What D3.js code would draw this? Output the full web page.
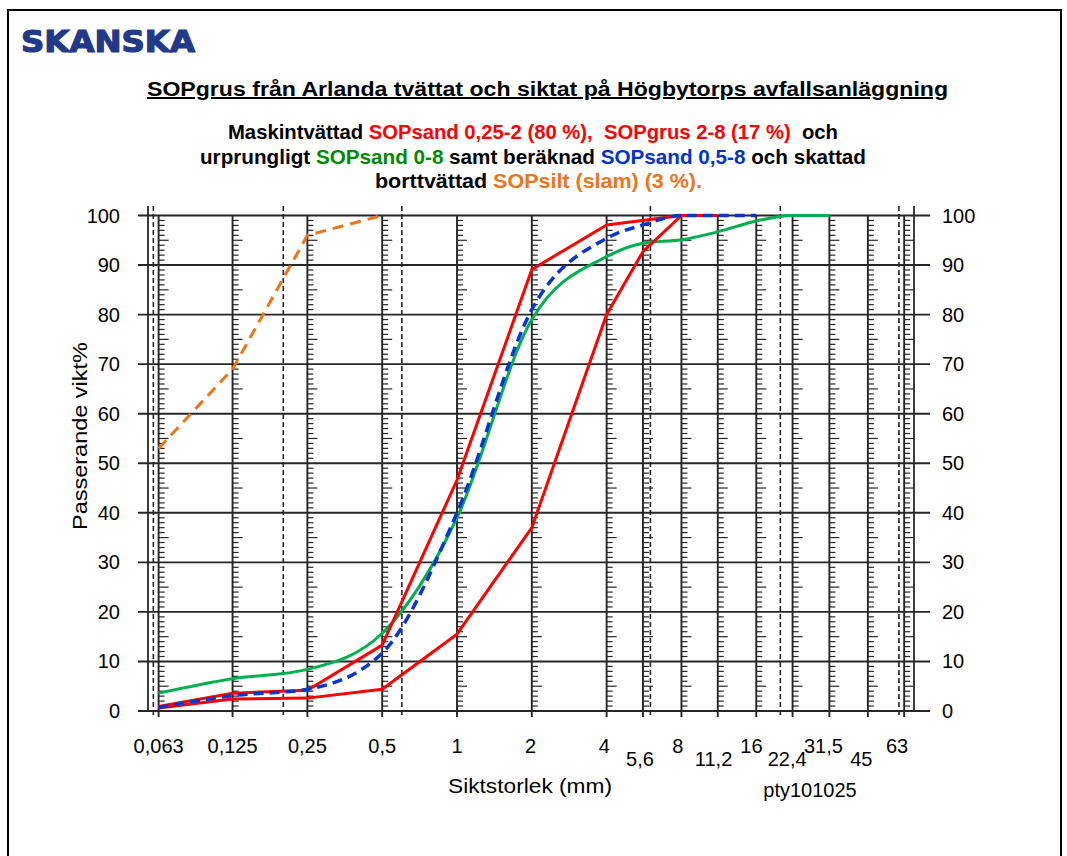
<!DOCTYPE html>
<html>
<head>
<meta charset="utf-8">
<script src="https://cdn.jsdelivr.net/npm/d3@7"></script>
<style>
  html, body { margin: 0; padding: 0; background: #fff; }
  svg { display: block; }
  text { font-family: "Liberation Sans", Arial, sans-serif; }
</style>
</head>
<body>
<svg id="chart" width="1067" height="856"></svg>
<script>
// Sieve sizes (mm) and their axis labels
const sieves = [0.063, 0.125, 0.25, 0.5, 1, 2, 4, 5.6, 8, 11.2, 16, 22.4, 31.5, 45, 63];
const sieveLabels = ["0,063", "0,125", "0,25", "0,5", "1", "2", "4", "5,6", "8", "11,2", "16", "22,4", "31,5", "45", "63"];
const lowerRowLabels = ["5,6", "11,2", "22,4", "45"];
// Fraction boundaries (dashed)
const fractionBounds = [0.06, 0.2, 0.6, 6, 20, 60];
const yTicks = [0, 10, 20, 30, 40, 50, 60, 70, 80, 90, 100];

// Passing percentages
const sandFineSizes = [0.063, 0.125, 0.25, 0.5, 1, 2, 4, 8, 11.2];
const sandFineValues = [0.9, 3.6, 4.2, 13.3, 46.6, 89.1, 98.1, 100, 100];

const grusSizes = [0.063, 0.125, 0.25, 0.5, 1, 2, 4, 5.6, 8];
const grusValues = [0.6, 2.4, 2.6, 4.4, 15.5, 37, 80, 92.7, 100];

const sandOrigSizes = [0.063, 0.125, 0.25, 0.5, 1, 2, 4, 5.6, 8, 11.2, 16, 22.4, 31.5];
const sandOrigValues = [3.6, 6.5, 8.4, 15.7, 39, 79, 91.7, 94.4, 95.1, 96.7, 98.9, 100, 100];

const sandCalcSizes = [0.063, 0.125, 0.25, 0.5, 1, 2, 4, 5.6, 8, 11.2, 16];
const sandCalcValues = [0.7, 3.1, 4.4, 11.7, 40, 81, 95.4, 98.1, 100, 100, 100];

const siltSizes = [0.063, 0.125, 0.25, 0.5];
const siltValues = [53, 69, 96, 100];

const svg = d3.select("#chart");

// Outer frame of the sheet
svg.append("rect").attr("x", 8).attr("y", 10).attr("width", 1053).attr("height", 900)
  .attr("fill", "none").attr("stroke", "#000").attr("stroke-width", 2);

// Company logo text
svg.append("text").attr("x", 21).attr("y", 52)
  .attr("textLength", 174).attr("lengthAdjust", "spacingAndGlyphs")
  .style("font-family", "'DejaVu Sans', sans-serif").style("font-weight", "bold")
  .style("font-size", "30px").attr("fill", "#22398a")
  .attr("stroke", "#22398a").attr("stroke-width", 1.2).text("SKANSKA");

// Title
svg.append("text").attr("x", 147).attr("y", 96)
  .attr("textLength", 801).attr("lengthAdjust", "spacingAndGlyphs")
  .style("font-weight", "bold").style("font-size", "20px")
  .style("text-decoration", "underline")
  .text("SOPgrus från Arlanda tvättat och siktat på Högbytorps avfallsanläggning");

// Subtitle lines, coloured by series; each run is its own text, squeezed to fit the line width
const RED = "#ff0000", GREEN = "#008a00", BLUE = "#0033cc", ORANGE = "#e8761e";
const subLines = [
  { x: 228, y: 138.5, len: 610, parts: [["Maskintvättad", "#000", 0], ["SOPsand 0,25-2 (80 %),", RED, 1], ["SOPgrus 2-8 (17 %)", RED, 2], ["och", "#000", 2]] },
  { x: 200, y: 163.5, len: 666, parts: [["urprungligt", "#000", 0], ["SOPsand 0-8", GREEN, 1], ["samt beräknad", "#000", 1], ["SOPsand 0,5-8", BLUE, 1], ["och skattad", "#000", 1]] },
  { x: 375, y: 187.5, len: 327, parts: [["borttvättad", "#000", 0], ["SOPsilt (slam) (3 %).", ORANGE, 1]] }
];
const subFont = "20.5px";
const subFamily = "'Liberation Sans Narrow', 'Liberation Sans', Arial, sans-serif";
subLines.forEach(l => {
  const g = svg.append("g");
  const runs = l.parts.map(p => g.append("text").attr("y", l.y)
    .style("font-family", subFamily).style("font-weight", "bold").style("font-size", subFont)
    .attr("fill", p[1]).text(p[0]));
  // width of a space in this font
  const probe = g.append("text").style("font-family", subFamily).style("font-weight", "bold")
    .style("font-size", subFont).text("a a");
  const probe2 = g.append("text").style("font-family", subFamily).style("font-weight", "bold")
    .style("font-size", subFont).text("aa");
  const space = probe.node().getComputedTextLength() - probe2.node().getComputedTextLength();
  probe.remove(); probe2.remove();
  const widths = runs.map(r => r.node().getComputedTextLength());
  const total = d3.sum(widths) + d3.sum(l.parts, p => p[2]) * space;
  const k = l.len / total;
  let cx = l.x;
  runs.forEach((r, i) => {
    cx += l.parts[i][2] * space * k;
    r.attr("x", cx).attr("textLength", widths[i] * k).attr("lengthAdjust", "spacingAndGlyphs");
    cx += widths[i] * k;
  });
});

// Scales
const x = d3.scaleLog().domain([0.0571, 69]).range([148, 914]);
const y = d3.scaleLinear().domain([0, 100]).range([711, 215.5]);

const grid = svg.append("g");
const GRID = "#262626";

// Horizontal grid lines
grid.selectAll("line.h").data(yTicks).join("line")
  .attr("x1", 138).attr("x2", 930)
  .attr("y1", d => y(d)).attr("y2", d => y(d))
  .attr("stroke", GRID).attr("stroke-width", 1.9);

// Plot frame verticals
grid.selectAll("line.frame").data(x.domain()).join("line")
  .attr("x1", d => x(d)).attr("x2", d => x(d))
  .attr("y1", 206).attr("y2", y(0))
  .attr("stroke", GRID).attr("stroke-width", 1.8);

// Fraction boundaries
grid.selectAll("line.frac").data(fractionBounds).join("line")
  .attr("x1", d => x(d)).attr("x2", d => x(d))
  .attr("y1", 206).attr("y2", 717)
  .attr("stroke", GRID).attr("stroke-width", 1.6).attr("stroke-dasharray", "5,3");

// Sieve lines with 1 % ruler ticks
const minor = d3.range(1, 100).filter(v => v % 10 !== 0);
sieves.forEach(s => {
  const xs = x(s);
  grid.append("line").attr("x1", xs).attr("x2", xs).attr("y1", y(100)).attr("y2", 717)
    .attr("stroke", GRID).attr("stroke-width", 1.9);
  grid.selectAll(null).data(minor).join("line")
    .attr("x1", xs).attr("x2", d => xs + (d % 5 === 0 ? 10 : 6))
    .attr("y1", d => y(d)).attr("y2", d => y(d))
    .attr("stroke", GRID).attr("stroke-width", 1.2);
});

// Axis labels
const tickFont = "20px";
svg.append("g").selectAll("text").data(yTicks).join("text")
  .attr("x", 120).attr("y", d => y(d) + 7).attr("text-anchor", "end")
  .style("font-size", tickFont).text(d => d);
svg.append("g").selectAll("text").data(yTicks).join("text")
  .attr("x", 942).attr("y", d => y(d) + 7).attr("text-anchor", "start")
  .style("font-size", tickFont).text(d => d);

svg.append("g").selectAll("text").data(sieves).join("text")
  .attr("x", (d, i) => x(d) - Math.max(0, Math.log2(d)) * 1.2)
  .attr("y", (d, i) => lowerRowLabels.includes(sieveLabels[i]) ? 766 : 753)
  .attr("text-anchor", "middle").style("font-size", tickFont)
  .text((d, i) => sieveLabels[i]);

svg.append("text").attr("x", 448).attr("y", 793)
  .attr("textLength", 164).attr("lengthAdjust", "spacingAndGlyphs")
  .style("font-size", "21px").text("Siktstorlek (mm)");
svg.append("text").attr("x", 810).attr("y", 797).attr("text-anchor", "middle")
  .style("font-size", "20px").text("pty101025");
svg.append("text").attr("transform", "translate(87,530) rotate(-90)")
  .attr("textLength", 188).attr("lengthAdjust", "spacingAndGlyphs")
  .style("font-size", "21px").text("Passerande vikt%");

// Curves
const zip = (xs, vs) => xs.map((s, i) => [s, vs[i]]);
const straight = d3.line().x(d => x(d[0])).y(d => y(d[1]));
const smooth = d3.line().x(d => x(d[0])).y(d => y(d[1])).curve(d3.curveMonotoneX);

const series = [
  { data: zip(sandOrigSizes, sandOrigValues), gen: smooth, color: "#00b050", dash: null, w: 3 },
  { data: zip(sandFineSizes, sandFineValues), gen: straight, color: "#ff0000", dash: null, w: 3 },
  { data: zip(grusSizes, grusValues), gen: straight, color: "#ff0000", dash: null, w: 3 },
  { data: zip(sandCalcSizes, sandCalcValues), gen: smooth, color: "#0a36d0", dash: "10,6", w: 3.5 },
  { data: zip(siltSizes, siltValues), gen: straight, color: "#ee7418", dash: "11,7", w: 3 }
];
svg.append("g").selectAll("path").data(series).join("path")
  .attr("d", d => d.gen(d.data))
  .attr("fill", "none").attr("stroke", d => d.color).attr("stroke-width", d => d.w)
  .attr("stroke-dasharray", d => d.dash).attr("stroke-linejoin", "round");
</script>
</body>
</html>
